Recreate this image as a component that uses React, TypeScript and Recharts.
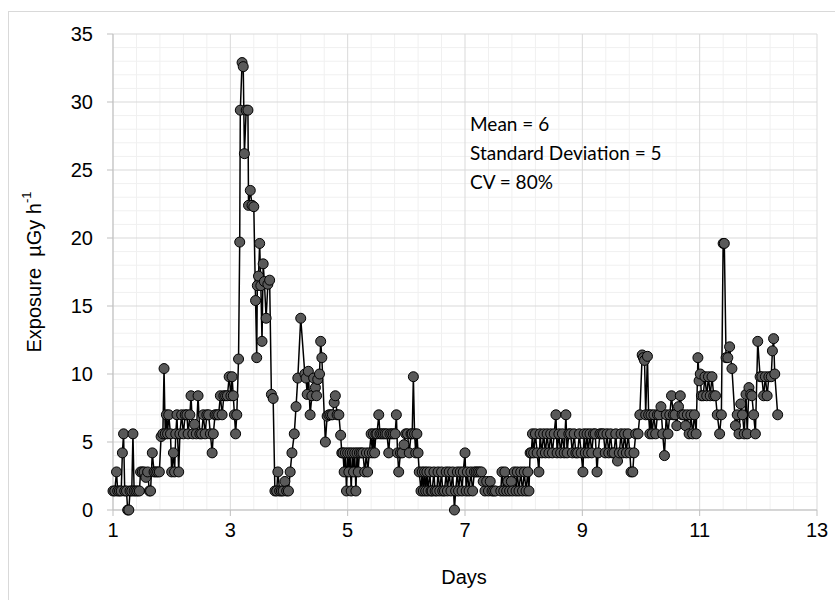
import React from 'react';
import { LineChart, Line, XAxis, YAxis, CartesianGrid } from 'recharts';

// [day, exposure µGy/h]
const readings: [number, number][] = [
  [1.00, 1.4], [1.03, 1.4], [1.06, 2.8], [1.08, 1.4], [1.11, 1.4], [1.14, 1.4], [1.16, 4.2], [1.18, 5.6],
  [1.20, 1.4], [1.23, 1.4], [1.25, 0], [1.27, 0], [1.29, 1.4], [1.32, 1.4], [1.34, 5.6], [1.36, 1.4],
  [1.39, 1.4], [1.42, 1.4], [1.45, 1.4], [1.47, 2.8], [1.50, 2.8], [1.53, 2.8], [1.56, 2.4], [1.59, 2.8],
  [1.62, 1.4], [1.64, 1.4], [1.67, 4.2], [1.70, 2.8], [1.73, 2.8], [1.76, 2.8], [1.79, 2.8], [1.82, 5.4],
  [1.85, 5.6], [1.87, 10.4], [1.89, 5.6], [1.91, 7.0], [1.93, 5.6], [1.95, 7.0], [1.98, 5.6], [2.00, 2.8],
  [2.03, 4.2], [2.05, 2.8], [2.07, 5.6], [2.09, 7.0], [2.12, 2.8], [2.14, 5.6], [2.17, 7.0], [2.20, 5.6],
  [2.23, 7.0], [2.26, 7.0], [2.28, 5.6], [2.31, 7.0], [2.33, 8.4], [2.36, 5.6], [2.39, 6.3], [2.42, 5.6],
  [2.45, 8.4], [2.48, 5.6], [2.51, 5.6], [2.54, 7.0], [2.57, 5.6], [2.60, 7.0], [2.63, 7.0], [2.66, 5.6],
  [2.69, 4.2], [2.71, 5.6], [2.74, 7.0], [2.77, 7.0], [2.80, 7.0], [2.83, 8.4], [2.86, 7.0], [2.89, 8.4],
  [2.92, 8.4], [2.95, 8.4], [2.98, 9.8], [3.01, 8.4], [3.03, 9.8], [3.05, 8.4], [3.07, 7.0], [3.09, 5.6],
  [3.11, 7.0], [3.14, 11.1], [3.16, 19.7], [3.17, 29.4], [3.20, 32.9], [3.22, 32.6], [3.24, 26.2], [3.27, 29.4],
  [3.30, 29.4], [3.31, 22.4], [3.34, 23.5], [3.37, 22.4], [3.40, 22.3], [3.43, 15.4], [3.45, 11.2], [3.46, 16.5],
  [3.48, 17.2], [3.50, 19.6], [3.52, 16.5], [3.54, 12.4], [3.56, 18.1], [3.58, 16.8], [3.61, 14.1], [3.64, 16.6],
  [3.67, 16.9], [3.70, 8.5], [3.73, 8.2], [3.76, 1.4], [3.79, 1.4], [3.81, 2.8], [3.84, 1.4], [3.87, 1.4],
  [3.90, 1.4], [3.93, 2.1], [3.96, 1.4], [3.99, 1.4], [4.02, 2.8], [4.05, 4.2], [4.09, 5.6], [4.12, 7.6],
  [4.15, 9.7], [4.20, 14.1], [4.27, 10.0], [4.29, 9.7], [4.31, 8.5], [4.33, 10.2], [4.36, 7.0], [4.39, 8.4],
  [4.42, 9.7], [4.45, 9.0], [4.47, 8.4], [4.49, 9.6], [4.52, 10.0], [4.54, 12.4], [4.56, 11.2], [4.62, 5.0],
  [4.65, 6.9], [4.68, 7.0], [4.71, 7.0], [4.74, 7.0], [4.77, 7.9], [4.79, 8.4], [4.82, 7.0], [4.85, 7.0],
  [4.88, 5.5], [4.90, 4.2], [4.92, 4.2], [4.94, 2.8], [4.96, 4.2], [4.98, 1.4], [5.00, 4.2], [5.02, 2.8],
  [5.04, 4.2], [5.06, 1.4], [5.08, 4.2], [5.10, 2.8], [5.12, 4.2], [5.14, 1.4], [5.16, 4.2], [5.18, 2.8],
  [5.20, 4.2], [5.23, 4.2], [5.26, 4.2], [5.29, 2.8], [5.32, 4.2], [5.34, 2.8], [5.37, 4.2], [5.40, 5.6],
  [5.42, 4.2], [5.44, 5.6], [5.46, 4.2], [5.48, 5.6], [5.50, 5.6], [5.53, 7.0], [5.55, 5.6], [5.58, 5.6],
  [5.61, 5.6], [5.64, 5.6], [5.67, 5.6], [5.70, 4.2], [5.72, 5.6], [5.75, 5.6], [5.78, 5.6], [5.81, 5.6],
  [5.83, 7.0], [5.85, 4.2], [5.87, 2.8], [5.90, 4.2], [5.93, 4.2], [5.96, 4.8], [5.99, 5.6], [6.02, 5.6],
  [6.05, 4.2], [6.08, 5.6], [6.10, 5.6], [6.12, 9.8], [6.14, 5.6], [6.16, 4.2], [6.18, 5.6], [6.20, 4.2],
  [6.22, 2.8], [6.25, 1.4], [6.27, 2.8], [6.29, 1.4], [6.31, 2.8], [6.33, 1.4], [6.35, 2.8], [6.37, 1.4],
  [6.40, 2.8], [6.42, 1.4], [6.44, 1.4], [6.47, 2.8], [6.49, 1.4], [6.52, 1.4], [6.54, 2.8], [6.57, 1.4],
  [6.60, 2.8], [6.62, 1.4], [6.65, 1.4], [6.68, 2.8], [6.70, 1.4], [6.73, 2.8], [6.76, 1.4], [6.79, 2.8],
  [6.82, 0], [6.84, 1.4], [6.87, 2.8], [6.89, 1.4], [6.92, 2.8], [6.95, 1.4], [6.97, 2.8], [7.00, 4.2],
  [7.02, 1.4], [7.04, 2.8], [7.07, 1.4], [7.10, 2.8], [7.13, 1.4], [7.16, 2.8], [7.19, 2.8], [7.22, 2.8],
  [7.25, 2.8], [7.28, 2.8], [7.31, 2.1], [7.34, 1.4], [7.37, 2.1], [7.40, 1.4], [7.43, 2.1], [7.46, 1.4],
  [7.49, 1.4], [7.52, 1.4], [7.61, 1.4], [7.63, 2.8], [7.66, 1.4], [7.68, 2.8], [7.71, 1.4], [7.73, 2.1],
  [7.76, 1.4], [7.79, 2.1], [7.81, 1.4], [7.84, 2.8], [7.87, 1.4], [7.89, 2.8], [7.92, 1.4], [7.95, 2.8],
  [7.98, 1.4], [8.01, 2.8], [8.04, 1.4], [8.07, 2.8], [8.09, 1.4], [8.11, 4.2], [8.13, 4.2], [8.15, 5.6],
  [8.17, 4.2], [8.20, 5.6], [8.23, 4.2], [8.26, 2.8], [8.28, 5.6], [8.31, 4.2], [8.34, 5.6], [8.37, 4.2],
  [8.40, 5.6], [8.43, 4.2], [8.46, 5.6], [8.49, 4.2], [8.52, 5.6], [8.55, 7.0], [8.57, 4.2], [8.60, 5.6],
  [8.63, 4.2], [8.66, 5.6], [8.69, 4.2], [8.72, 7.0], [8.74, 4.2], [8.77, 5.6], [8.80, 5.6], [8.83, 4.2],
  [8.86, 5.6], [8.89, 4.2], [8.92, 4.2], [8.95, 5.6], [8.98, 4.2], [9.01, 2.8], [9.03, 5.6], [9.05, 4.2],
  [9.08, 5.6], [9.10, 4.2], [9.13, 5.6], [9.16, 4.2], [9.19, 5.6], [9.22, 5.6], [9.25, 2.8], [9.27, 4.2],
  [9.30, 5.6], [9.33, 5.6], [9.36, 5.6], [9.39, 4.2], [9.42, 5.6], [9.45, 4.2], [9.48, 5.6], [9.51, 4.2],
  [9.54, 4.2], [9.57, 5.6], [9.60, 3.6], [9.63, 4.2], [9.66, 5.6], [9.69, 4.2], [9.72, 5.6], [9.75, 4.2],
  [9.78, 5.6], [9.81, 4.2], [9.83, 2.8], [9.86, 2.8], [9.88, 4.2], [9.91, 5.6], [9.95, 5.6], [9.98, 7.0],
  [10.02, 11.4], [10.04, 11.2], [10.06, 11.0], [10.08, 7.0], [10.11, 11.3], [10.13, 7.0], [10.15, 5.6], [10.17, 7.0],
  [10.19, 5.6], [10.22, 7.0], [10.25, 5.6], [10.28, 7.0], [10.31, 7.0], [10.34, 7.6], [10.37, 5.6], [10.40, 4.0],
  [10.43, 7.0], [10.46, 5.6], [10.49, 7.0], [10.52, 8.4], [10.55, 7.0], [10.58, 7.0], [10.61, 6.2], [10.64, 7.6],
  [10.67, 8.4], [10.70, 7.0], [10.73, 7.0], [10.76, 6.2], [10.79, 7.0], [10.82, 5.6], [10.85, 7.0], [10.88, 5.6],
  [10.91, 7.0], [10.94, 5.6], [10.97, 11.2], [10.99, 9.5], [11.01, 10.0], [11.03, 8.4], [11.06, 8.4], [11.09, 9.8],
  [11.12, 8.4], [11.15, 9.8], [11.18, 8.4], [11.21, 9.8], [11.24, 8.4], [11.27, 8.4], [11.30, 7.0], [11.34, 5.6],
  [11.37, 7.0], [11.40, 19.6], [11.42, 19.6], [11.45, 11.2], [11.48, 11.2], [11.51, 12.0], [11.55, 10.4], [11.61, 6.2],
  [11.64, 7.0], [11.67, 5.6], [11.70, 7.8], [11.73, 7.0], [11.76, 5.6], [11.79, 8.5], [11.81, 5.6], [11.84, 9.0],
  [11.87, 8.5], [11.89, 8.4], [11.92, 7.0], [11.95, 5.6], [11.99, 12.4], [12.03, 9.8], [12.06, 9.8], [12.09, 8.4],
  [12.12, 9.8], [12.15, 8.4], [12.18, 9.8], [12.22, 9.8], [12.24, 11.7], [12.26, 12.6], [12.28, 10.0], [12.33, 7.0],
];

const xTicks = [1, 3, 5, 7, 9, 11, 13];
const yTicks = [0, 5, 10, 15, 20, 25, 30, 35];
const statsLines = ['Mean = 6', 'Standard Deviation = 5', 'CV = 80%'];

const data = readings.map(([day, exposure]) => ({ day, exposure }));

// minor grid: every 1 unit on y, every 0.4 day on x
const minorY = Array.from({ length: 36 }, (_, i) => i).filter((v) => v % 5 !== 0);
const minorX = Array.from({ length: 31 }, (_, i) => +(1 + i * 0.4).toFixed(1)).filter(
  (v) => !xTicks.includes(v)
);

const font = 'Liberation Sans, Arial, sans-serif';

export default function App() {
  return (
    <div style={{ position: 'absolute', left: 0, top: 0, width: 835, height: 600, background: '#fff' }}>
      <div
        style={{
          position: 'absolute',
          left: 8,
          top: 11,
          width: 827,
          height: 589,
          borderTop: '1px solid #d9d9d9',
          borderLeft: '1px solid #d9d9d9',
          boxSizing: 'border-box',
        }}
      />
      <LineChart
        width={835}
        height={600}
        data={data}
        margin={{ top: 34, right: 18, bottom: 30, left: 53 }}
        style={{ position: 'absolute', left: 0, top: 0 }}
      >
        <CartesianGrid stroke="#f0f0f0" horizontalValues={minorY} verticalValues={minorX} />
        <CartesianGrid stroke="#d9d9d9" horizontalValues={yTicks} verticalValues={xTicks} />
        <XAxis
          type="number"
          dataKey="day"
          domain={[1, 13]}
          ticks={xTicks}
          interval={0}
          height={60}
          stroke="#bfbfbf"
          tickSize={6}
          tickMargin={7}
          tick={{ fill: '#000', fontSize: 20, fontFamily: font }}
        />
        <YAxis
          type="number"
          domain={[0, 35]}
          ticks={yTicks}
          interval={0}
          width={60}
          stroke="#bfbfbf"
          tickSize={6}
          tickMargin={14}
          tick={{ fill: '#000', fontSize: 20, fontFamily: font }}
        />
        <Line
          type="linear"
          dataKey="exposure"
          stroke="#000"
          strokeWidth={1.5}
          dot={{ r: 5, fill: '#595959', stroke: '#000', strokeWidth: 1 }}
          activeDot={false}
          isAnimationActive={false}
        />
      </LineChart>
      <svg width={835} height={600} style={{ position: 'absolute', left: 0, top: 0, pointerEvents: 'none' }}>
        <text
          x={36}
          y={272}
          transform="rotate(-90 36 272)"
          textAnchor="middle"
          dominantBaseline="middle"
          fontSize={20}
          fontFamily={font}
          fill="#000"
        >
          {'Exposure\u00a0\u00a0µGy h'}
          <tspan dy={-8} fontSize={13}>-1</tspan>
        </text>
        <text x={464} y={584} textAnchor="middle" fontSize={20} fontFamily={font} fill="#000">
          Days
        </text>
        {statsLines.map((line, i) => (
          <text key={line} x={470} y={131 + i * 29} fontSize={19} fontFamily="Lato, sans-serif" fill="#000">
            {line}
          </text>
        ))}
      </svg>
    </div>
  );
}
